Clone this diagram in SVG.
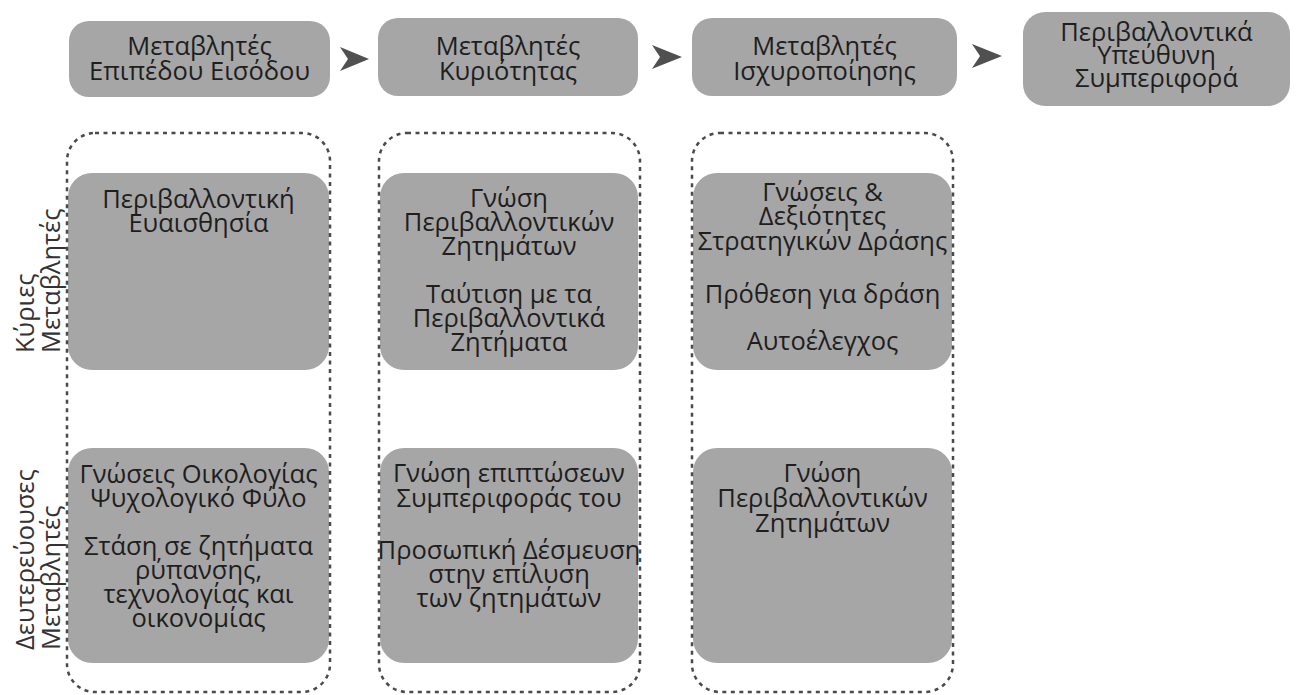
<svg xmlns="http://www.w3.org/2000/svg" width="1298" height="695" viewBox="0 0 1298 695">
  <style>
    .box { fill: #a6a6a6; }
    .col { fill: none; stroke: #4a4a4a; stroke-width: 2.5; stroke-dasharray: 4 4.5; }
    .t { font-family: "Open Sans", "Noto Sans", "DejaVu Sans", sans-serif; font-size: 25.5px; fill: #1e1e1e; text-anchor: middle; }
    .side { font-family: "Open Sans", "Noto Sans", "DejaVu Sans", sans-serif; font-size: 25.5px; fill: #333333; text-anchor: start; }
    .arrow { fill: #505050; }
  </style>
  <rect width="1298" height="695" fill="#ffffff"/>

  <!-- stage headers -->
  <g id="stage-entry">
    <rect class="box" x="69" y="21" width="261" height="76" rx="20"/>
    <text class="t" x="199.5" y="55">Μεταβλητές</text>
    <text class="t" x="199.5" y="80">Επιπέδου Εισόδου</text>
  </g>
  <g id="stage-ownership">
    <rect class="box" x="378" y="18" width="260" height="78" rx="20"/>
    <text class="t" x="508" y="55">Μεταβλητές</text>
    <text class="t" x="508" y="80">Κυριότητας</text>
  </g>
  <g id="stage-empowerment">
    <rect class="box" x="692" y="18" width="265" height="78" rx="20"/>
    <text class="t" x="824.5" y="55">Μεταβλητές</text>
    <text class="t" x="824.5" y="80">Ισχυροποίησης</text>
  </g>
  <g id="stage-behaviour">
    <rect class="box" x="1023" y="12" width="267" height="94" rx="22"/>
    <text class="t" x="1156.5" y="41">Περιβαλλοντικά</text>
    <text class="t" x="1156.5" y="64">Υπεύθυνη</text>
    <text class="t" x="1156.5" y="87">Συμπεριφορά</text>
  </g>

  <!-- arrows between stages -->
  <g id="connectors">
    <polygon class="arrow" points="340,47 369,59 340,71 348,59"/>
    <polygon class="arrow" points="652,45 682,57 652,69 660,57"/>
    <polygon class="arrow" points="972,44 1002,56 972,68 980,56"/>
  </g>

  <!-- row labels -->
  <g id="label-main">
    <text class="side" transform="translate(34,353) rotate(-90)">Κύριες</text>
    <text class="side" transform="translate(60,353) rotate(-90)">Μεταβλητές</text>
  </g>
  <g id="label-secondary">
    <text class="side" transform="translate(34,650) rotate(-90)">Δευτερεύουσες</text>
    <text class="side" transform="translate(60,650) rotate(-90)">Μεταβλητές</text>
  </g>

  <!-- column 1: entry-level variables -->
  <g id="entry-main">
    <rect class="box" x="68" y="173" width="261" height="197" rx="24"/>
    <text class="t" x="198.5" y="208">Περιβαλλοντική</text>
    <text class="t" x="198.5" y="232">Ευαισθησία</text>
  </g>
  <g id="entry-secondary">
    <rect class="box" x="68" y="448" width="261" height="215" rx="24"/>
    <text class="t" x="198.5" y="483">Γνώσεις Οικολογίας</text>
    <text class="t" x="198.5" y="507">Ψυχολογικό Φύλο</text>
    <text class="t" x="198.5" y="555">Στάση σε ζητήματα</text>
    <text class="t" x="198.5" y="579">ρύπανσης,</text>
    <text class="t" x="198.5" y="603">τεχνολογίας και</text>
    <text class="t" x="198.5" y="627">οικονομίας</text>
  </g>

  <!-- column 2: ownership variables -->
  <g id="ownership-main">
    <rect class="box" x="380" y="173" width="258" height="197" rx="24"/>
    <text class="t" x="509" y="207">Γνώση</text>
    <text class="t" x="509" y="231">Περιβαλλοντικών</text>
    <text class="t" x="509" y="255">Ζητημάτων</text>
    <text class="t" x="509" y="303">Ταύτιση με τα</text>
    <text class="t" x="509" y="327">Περιβαλλοντικά</text>
    <text class="t" x="509" y="351">Ζητήματα</text>
  </g>
  <g id="ownership-secondary">
    <rect class="box" x="380" y="448" width="258" height="215" rx="24"/>
    <text class="t" x="509" y="482">Γνώση επιπτώσεων</text>
    <text class="t" x="509" y="507">Συμπεριφοράς του</text>
    <text class="t" x="509" y="559">Προσωπική Δέσμευση</text>
    <text class="t" x="509" y="583">στην επίλυση</text>
    <text class="t" x="509" y="607">των ζητημάτων</text>
  </g>

  <!-- column 3: empowerment variables -->
  <g id="empowerment-main">
    <rect class="box" x="693" y="173" width="259" height="197" rx="24"/>
    <text class="t" x="822.5" y="201">Γνώσεις &amp;</text>
    <text class="t" x="822.5" y="225">Δεξιότητες</text>
    <text class="t" x="822.5" y="250">Στρατηγικών Δράσης</text>
    <text class="t" x="822.5" y="303">Πρόθεση για δράση</text>
    <text class="t" x="822.5" y="350">Αυτοέλεγχος</text>
  </g>
  <g id="empowerment-secondary">
    <rect class="box" x="693" y="448" width="259" height="215" rx="24"/>
    <text class="t" x="822.5" y="482">Γνώση</text>
    <text class="t" x="822.5" y="507">Περιβαλλοντικών</text>
    <text class="t" x="822.5" y="532">Ζητημάτων</text>
  </g>

  <!-- dotted column frames -->
  <g id="column-frames">
    <rect class="col" x="67" y="133" width="263" height="559" rx="28"/>
    <rect class="col" x="379" y="133" width="261" height="559" rx="28"/>
    <rect class="col" x="692" y="133" width="261" height="559" rx="28"/>
  </g>
</svg>
